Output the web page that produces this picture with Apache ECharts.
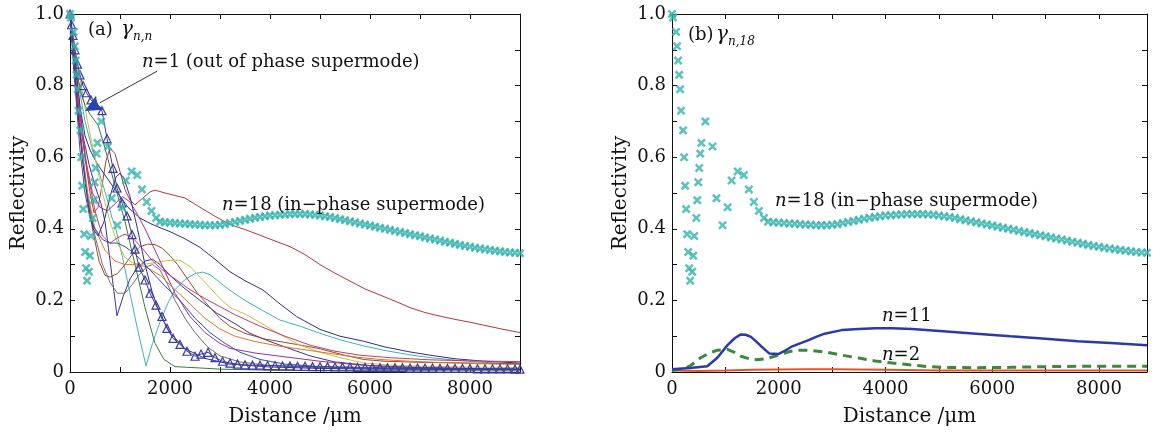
<!DOCTYPE html>
<html><head><meta charset="utf-8">
<script src="https://cdn.jsdelivr.net/npm/echarts@6/dist/echarts.min.js"></script>
<style>html,body{margin:0;padding:0;background:#fff}#c{width:1171px;height:432px}</style>
</head><body><div id="c"></div>
<script>
// ---------- data (distance in um, reflectivity) ----------
const xTicksA = [0, 2000, 4000, 6000, 8000];
const yTicks = [0, 0.2, 0.4, 0.6, 0.8, 1.0];

// n = 18 (in-phase supermode), same curve in both panels
const n18 = [[0,1.0],[20,0.99],[76,0.95],[95,0.91],[114,0.87],[133,0.83],[152,0.79],[170,0.73],[208,0.675],[227,0.6],[246,0.52],[265,0.455],[284,0.385],[303,0.335],[322,0.29],[341,0.255],[379,0.28],[398,0.325],[417,0.38],[455,0.43],[473,0.48],[492,0.53],[511,0.57],[530,0.61],[550,0.64],[625,0.70],[758,0.63],[833,0.485],[947,0.41],[1042,0.46],[1117,0.535],[1231,0.56],[1345,0.55],[1439,0.51],[1534,0.475],[1629,0.45],[1723,0.43],
[1800,0.42],[1900,0.418],[2000,0.417],[2100,0.416],[2200,0.415],[2300,0.414],[2400,0.413],[2500,0.412],[2600,0.411],[2700,0.41],[2800,0.41],[2900,0.41],[3000,0.411],[3100,0.413],[3200,0.416],[3300,0.419],[3400,0.422],[3500,0.425],[3600,0.428],[3700,0.431],[3800,0.433],[3900,0.435],[4000,0.437],[4100,0.438],[4200,0.439],[4300,0.44],[4400,0.441],[4500,0.441],[4600,0.441],[4700,0.441],[4800,0.44],[4900,0.439],[5000,0.437],[5100,0.435],[5200,0.433],[5300,0.43],[5400,0.427],[5500,0.424],[5600,0.421],[5700,0.418],[5800,0.415],[5900,0.412],[6000,0.409],[6100,0.406],[6200,0.403],[6300,0.4],[6400,0.397],[6500,0.394],[6600,0.391],[6700,0.388],[6800,0.385],[6900,0.382],[7000,0.379],[7100,0.376],[7200,0.373],[7300,0.37],[7400,0.367],[7500,0.364],[7600,0.361],[7700,0.358],[7800,0.355],[7900,0.352],[8000,0.35],[8100,0.347],[8200,0.345],[8300,0.343],[8400,0.341],[8500,0.339],[8600,0.337],[8700,0.335],[8800,0.334],[8900,0.333],[9000,0.332]];

// panel (a) triangles
const aTri = [[0,1],[30,0.97],[60,0.94],[100,0.9],[150,0.86],[200,0.83],[260,0.8],[330,0.78],[420,0.76],[520,0.745],[640,0.73],[740,0.652],[860,0.569],[940,0.514],[1040,0.472],[1140,0.436],[1240,0.384],[1300,0.343],[1380,0.293],[1500,0.257],[1600,0.22],[1720,0.187],[1840,0.155],[1940,0.122],[2060,0.094],[2200,0.077],[2340,0.058],[2500,0.044],[2620,0.05],[2760,0.055],[2900,0.04],[3050,0.03],[3200,0.025],[3350,0.022],[3500,0.02],[3650,0.019],[3800,0.019],[3950,0.018],[4100,0.018],[4250,0.017],[4400,0.017],[4550,0.016],[4700,0.016],[4850,0.015],[5000,0.015],[5150,0.015],[5300,0.014],[5450,0.014],[5600,0.014],[5750,0.013],[5900,0.013],[6050,0.013],[6200,0.012],[6350,0.012],[6500,0.012],[6650,0.012],[6800,0.011],[6950,0.011],[7100,0.011],[7250,0.011],[7400,0.01],[7550,0.01],[7700,0.01],[7850,0.01],[8000,0.01],[8150,0.009],[8300,0.009],[8450,0.009],[8600,0.009],[8750,0.009],[8900,0.008],[9000,0.008]];

// panel (a) thin curves
const aRed = [[0,1],[100,0.88],[200,0.74],[300,0.6],[400,0.5],[480,0.445],[560,0.46],[640,0.52],[720,0.59],[800,0.625],[840,0.63],[900,0.61],[1000,0.56],[1100,0.51],[1200,0.48],[1300,0.467],[1450,0.485],[1600,0.503],[1700,0.508],[1900,0.5],[2100,0.493],[2300,0.486],[2600,0.46],[2900,0.435],[3200,0.412],[3500,0.398],[3800,0.382],[4100,0.366],[4400,0.35],[4700,0.328],[5000,0.3],[5300,0.276],[5600,0.254],[5900,0.232],[6200,0.215],[6500,0.198],[6800,0.18],[7100,0.166],[7400,0.156],[7700,0.147],[8000,0.139],[8300,0.13],[8600,0.121],[9000,0.11]];
const aNavy = [[0,1],[100,0.86],[200,0.74],[300,0.66],[400,0.62],[550,0.58],[700,0.55],[900,0.51],[1160,0.46],[1400,0.43],[1600,0.415],[1800,0.403],[2000,0.392],[2300,0.372],[2600,0.348],[2900,0.315],[3200,0.28],[3500,0.255],[3860,0.229],[4200,0.19],[4530,0.155],[5000,0.119],[5400,0.1],[5870,0.086],[6300,0.07],[6800,0.056],[7200,0.047],[7700,0.037],[8300,0.03],[9000,0.025]];
const aTeal = [[0,1],[100,0.88],[200,0.78],[300,0.7],[450,0.62],[600,0.55],[750,0.48],[840,0.43],[900,0.41],[1050,0.32],[1200,0.22],[1350,0.12],[1520,0.017],[1650,0.08],[1800,0.14],[1950,0.19],[2100,0.23],[2300,0.258],[2500,0.275],[2650,0.279],[2800,0.272],[3000,0.25],[3200,0.228],[3500,0.2],[3850,0.172],[4200,0.145],[4600,0.128],[5000,0.108],[5400,0.09],[5870,0.073],[6300,0.06],[6800,0.048],[7200,0.04],[7800,0.032],[8400,0.026],[9000,0.022]];
const aVee = [[0,1],[80,0.87],[160,0.76],[260,0.66],[380,0.58],[500,0.52],[620,0.47],[700,0.42],[820,0.29],[940,0.157],[1060,0.21],[1200,0.26],[1340,0.29],[1500,0.31],[1650,0.315],[1800,0.3],[2000,0.27],[2260,0.237],[2600,0.2],[2930,0.165],[3300,0.135],[3600,0.108],[4000,0.085],[4300,0.07],[4800,0.045],[5300,0.028],[6000,0.018],[7000,0.012],[8000,0.009],[9000,0.007]];
const aGray = [[0,1],[100,0.82],[200,0.67],[350,0.5],[500,0.38],[650,0.3],[800,0.25],[950,0.22],[1100,0.22],[1250,0.245],[1400,0.275],[1550,0.295],[1650,0.3],[1800,0.285],[1950,0.245],[2100,0.2],[2300,0.15],[2500,0.11],[2750,0.07],[3000,0.045],[3400,0.028],[4000,0.018],[5000,0.012],[6000,0.01],[9000,0.008]];
const aBrown = [[0,1],[100,0.84],[200,0.68],[320,0.52],[450,0.4],[580,0.31],[700,0.27],[800,0.265],[950,0.275],[1100,0.3],[1250,0.33],[1400,0.35],[1550,0.357],[1700,0.356],[1850,0.345],[2000,0.325],[2150,0.3],[2350,0.26],[2550,0.22],[2800,0.18],[3000,0.15],[3200,0.127],[3500,0.108],[3900,0.092],[4200,0.085],[4530,0.077],[5000,0.065],[5400,0.05],[5870,0.035],[6300,0.03],[7000,0.027],[8000,0.025],[9000,0.023]];
const aYellow = [[0,1],[100,0.9],[200,0.82],[350,0.7],[500,0.6],[650,0.5],[800,0.42],[950,0.36],[1100,0.32],[1250,0.305],[1400,0.3],[1600,0.303],[1800,0.308],[2000,0.312],[2200,0.312],[2400,0.295],[2600,0.265],[2800,0.235],[3000,0.205],[3200,0.18],[3530,0.16],[3900,0.13],[4200,0.105],[4600,0.075],[5000,0.055],[5400,0.04],[5870,0.025],[6500,0.018],[7500,0.015],[9000,0.012]];
const aGreen = [[0,1],[80,0.9],[160,0.82],[240,0.77],[300,0.745],[400,0.72],[560,0.69],[700,0.625],[900,0.52],[1100,0.42],[1300,0.3],[1500,0.18],[1700,0.08],[1880,0.035],[2100,0.015],[2500,0.012],[3000,0.008],[4000,0.005],[5000,0.004],[9000,0.003]];
const aPurple = [[0,1],[100,0.84],[200,0.7],[300,0.6],[450,0.5],[600,0.46],[750,0.45],[900,0.47],[1050,0.49],[1200,0.475],[1350,0.44],[1500,0.4],[1700,0.34],[1900,0.28],[2100,0.22],[2400,0.155],[2700,0.11],[3000,0.08],[3200,0.066],[3700,0.053],[4200,0.044],[5000,0.03],[6000,0.017],[7000,0.013],[8000,0.01],[9000,0.008]];
const aMagenta = [[0,1],[100,0.85],[200,0.72],[350,0.56],[500,0.45],[650,0.38],[800,0.36],[950,0.375],[1100,0.385],[1250,0.375],[1450,0.345],[1650,0.31],[1850,0.285],[2100,0.26],[2400,0.23],[2700,0.205],[2900,0.19],[3300,0.16],[3800,0.128],[4300,0.1],[4800,0.075],[5300,0.058],[5800,0.047],[6400,0.04],[7200,0.034],[8000,0.031],[9000,0.029]];
const aOrange = [[0,1],[100,0.82],[200,0.66],[350,0.5],[500,0.4],[700,0.34],[900,0.31],[1100,0.3],[1300,0.3],[1500,0.295],[1800,0.27],[2100,0.23],[2400,0.19],[2700,0.15],[3000,0.12],[3300,0.1],[3700,0.085],[4200,0.072],[4700,0.062],[5200,0.052],[5700,0.042],[6200,0.035],[6800,0.03],[7500,0.026],[8200,0.023],[9000,0.021]];
const aNavy2 = [[0,1],[80,0.86],[160,0.72],[260,0.58],[360,0.47],[460,0.4],[560,0.38],[680,0.42],[800,0.49],[920,0.545],[1000,0.555],[1080,0.54],[1200,0.49],[1350,0.4],[1500,0.3],[1650,0.22],[1800,0.16],[2000,0.11],[2300,0.065],[2700,0.038],[3200,0.022],[4000,0.014],[5000,0.01],[6000,0.008],[9000,0.006]];
const aBlue = [[0,1],[100,0.8],[200,0.62],[300,0.5],[400,0.43],[500,0.4],[650,0.37],[800,0.36],[950,0.36],[1100,0.35],[1300,0.33],[1500,0.3],[1700,0.27],[1900,0.24],[2200,0.2],[2500,0.15],[2800,0.11],[3100,0.08],[3400,0.055],[3800,0.035],[4300,0.022],[5000,0.015],[6000,0.01],[9000,0.007]];

// panel (b)
const bN11 = [[0,0.008],[340,0.011],[660,0.016],[850,0.04],[1040,0.075],[1180,0.095],[1290,0.105],[1380,0.104],[1480,0.098],[1580,0.085],[1670,0.072],[1820,0.052],[1990,0.05],[2100,0.058],[2230,0.07],[2400,0.08],[2560,0.089],[2700,0.098],[2860,0.107],[3180,0.117],[3500,0.12],[3810,0.122],[4120,0.122],[4500,0.12],[5080,0.114],[5700,0.107],[6340,0.1],[7000,0.093],[7600,0.086],[8300,0.08],[8900,0.075]];
const bN2 = [[0,0.005],[200,0.008],[340,0.017],[530,0.039],[700,0.053],[850,0.061],[1040,0.063],[1170,0.055],[1290,0.044],[1450,0.037],[1600,0.034],[1760,0.037],[1920,0.044],[2080,0.052],[2230,0.058],[2400,0.061],[2560,0.061],[2900,0.055],[3180,0.047],[3500,0.039],[3810,0.031],[4130,0.025],[4450,0.02],[4800,0.015],[5080,0.013],[5700,0.012],[6340,0.013],[7000,0.015],[7600,0.016],[8300,0.016],[8900,0.016]];
const bRed = [[0,0.004],[500,0.003],[1000,0.004],[1500,0.006],[2000,0.007],[2500,0.008],[3000,0.008],[3500,0.007],[4000,0.006],[5000,0.004],[6000,0.004],[7000,0.004],[8000,0.004],[8900,0.004]];

// arrow annotation (data coords, panel a)
const arrowTail = [1740, 0.84];
const arrowTip = [300, 0.729];

// ---------- chart ----------
const FF = "'DejaVu Serif', serif";
const INK = '#111';
const chart = echarts.init(document.getElementById('c'), null, {renderer: 'canvas'});
const XSYM = 'path://M0,2 L2,0 L5,3 L8,0 L10,2 L7,5 L10,8 L8,10 L5,7 L2,10 L0,8 L3,5 Z';

function xAx(grid, pos, max, labels) {
  return {
    type: 'value', gridIndex: grid, position: pos, min: 0, max: max, interval: 2000,
    axisLine: {show: true, onZero: false, lineStyle: {color: INK, width: 1}},
    axisTick: {show: true, inside: true, length: 5, lineStyle: {color: INK}},
    minorTick: {show: true, splitNumber: 2, length: 5, lineStyle: {color: INK}},
    splitLine: {show: false},
    axisLabel: {show: labels, margin: 8, color: INK, fontFamily: FF, fontSize: 18,
      formatter: v => (v % 2000 === 0 ? String(v) : '')},
    name: labels ? 'Distance /\u03bcm' : '', nameLocation: 'middle', nameGap: 35,
    nameTextStyle: {color: INK, fontFamily: FF, fontSize: 20}
  };
}
function yAx(grid, pos, labels) {
  return {
    type: 'value', gridIndex: grid, position: pos, min: 0, max: 1, interval: 0.2,
    axisLine: {show: true, onZero: false, lineStyle: {color: INK, width: 1}},
    axisTick: {show: true, inside: true, length: 5, lineStyle: {color: INK}},
    minorTick: {show: true, splitNumber: 2, length: 5, lineStyle: {color: INK}},
    splitLine: {show: false},
    axisLabel: {show: labels, margin: 6, color: INK, fontFamily: FF, fontSize: 18,
      formatter: v => (v === 0 ? '0' : v.toFixed(1))},
    name: labels ? 'Reflectivity' : '', nameLocation: 'middle', nameGap: 41, nameRotate: 90,
    nameTextStyle: {color: INK, fontFamily: FF, fontSize: 20}
  };
}
function thin(data, color) {
  return {type: 'line', xAxisIndex: 0, yAxisIndex: 0, data: data, showSymbol: false, symbol: 'none',
    lineStyle: {color: color, width: 1}, z: 2, silent: true};
}

const series = [
  thin(aRed, '#b03838'), thin(aNavy, '#2e2e86'), thin(aTeal, '#3fb2b2'), thin(aVee, '#40309a'),
  thin(aGray, '#707070'), thin(aBrown, '#9c4a1e'), thin(aYellow, '#c8c048'), thin(aGreen, '#3d7a3d'),
  thin(aPurple, '#9b30a0'), thin(aMagenta, '#c03c6e'), thin(aOrange, '#d8782c'), thin(aNavy2, '#30308f'),
  thin(aBlue, '#3a48b8'),
  {type: 'line', xAxisIndex: 0, yAxisIndex: 0, data: aTri, symbol: 'triangle', symbolSize: 8, showSymbol: true,
    lineStyle: {color: '#3b3b9b', width: 1}, itemStyle: {color: 'rgba(255,255,255,0)', borderColor: '#3b3b9b', borderWidth: 1.2}, z: 3},
  {type: 'scatter', xAxisIndex: 0, yAxisIndex: 0, data: n18, symbol: XSYM, symbolSize: 9,
    itemStyle: {color: '#35b3ad'}, z: 4},
  {type: 'scatter', xAxisIndex: 1, yAxisIndex: 1, data: n18, symbol: XSYM, symbolSize: 9,
    itemStyle: {color: '#35b3ad'}, z: 4},
  {type: 'line', xAxisIndex: 1, yAxisIndex: 1, data: bRed, showSymbol: false, symbol: 'none',
    lineStyle: {color: '#e0562a', width: 2}, z: 2},
  {type: 'line', xAxisIndex: 1, yAxisIndex: 1, data: bN2, showSymbol: false, symbol: 'none',
    lineStyle: {color: '#3b8a3b', width: 3, type: [9, 6]}, z: 3},
  {type: 'line', xAxisIndex: 1, yAxisIndex: 1, data: bN11, showSymbol: false, symbol: 'none',
    lineStyle: {color: '#2b3aa6', width: 2.5}, z: 3}
];

const txt = (x, y, text, size, italic) => ({type: 'text', x: x, y: y, z: 100,
  style: {text: text, fill: INK, font: (italic ? 'italic ' : '') + size + 'px ' + FF, verticalAlign: 'middle', align: 'left'}});
const rtxt = (x, y, text) => ({type: 'text', x: x, y: y, z: 100,
  style: {text: text, fill: INK, font: '18px ' + FF, verticalAlign: 'middle', align: 'left',
    rich: {i: {fontFamily: FF, fontSize: 18, fontStyle: 'italic', fill: INK}}}});

const option = {
  animation: false,
  backgroundColor: '#fff',
  grid: [
    {left: 70, top: 14, width: 450, height: 362, containLabel: false},
    {left: 672, top: 14, width: 475, height: 358, containLabel: false}
  ],
  xAxis: [xAx(0, 'bottom', 9000, true), xAx(1, 'bottom', 8900, true), xAx(0, 'top', 9000, false), xAx(1, 'top', 8900, false)],
  yAxis: [yAx(0, 'left', true), yAx(1, 'left', true), yAx(0, 'right', false), yAx(1, 'right', false)],
  series: series,
  graphic: [
    txt(88, 30, '(a)', 18, false), txt(121, 30, '\u03b3', 20, true), txt(133, 37, 'n,n', 12, true),
    txt(688, 35, '(b)', 18, false), txt(716, 35, '\u03b3', 20, true), txt(728, 42, 'n,18', 12, true),
    rtxt(142, 62, '{i|n}=1 (out of phase supermode)'),
    rtxt(222, 205, '{i|n}=18 (in\u2212phase supermode)'),
    rtxt(775, 201, '{i|n}=18 (in\u2212phase supermode)'),
    rtxt(882, 316, '{i|n}=11'),
    rtxt(882, 355, '{i|n}=2')
  ]
};
chart.setOption(option);

// arrow: line + filled head, positioned from data coordinates
const pT = chart.convertToPixel({gridIndex: 0}, arrowTail);
const pH = chart.convertToPixel({gridIndex: 0}, arrowTip);
const dx = pT[0] - pH[0], dy = pT[1] - pH[1], L = Math.hypot(dx, dy);
const ux = dx / L, uy = dy / L, hl = 17, hw = 8;
const bx = pH[0] + ux * hl, by = pH[1] + uy * hl;
chart.setOption({graphic: option.graphic.concat([
  {type: 'line', z: 99, shape: {x1: pT[0], y1: pT[1], x2: bx, y2: by}, style: {stroke: '#333', lineWidth: 1}},
  {type: 'polygon', z: 99, shape: {points: [[pH[0], pH[1]], [bx - uy * hw, by + ux * hw], [bx - ux * 3, by - uy * 3], [bx + uy * hw, by - ux * hw]]},
    style: {fill: '#2444b4'}}
])});
</script></body></html>
